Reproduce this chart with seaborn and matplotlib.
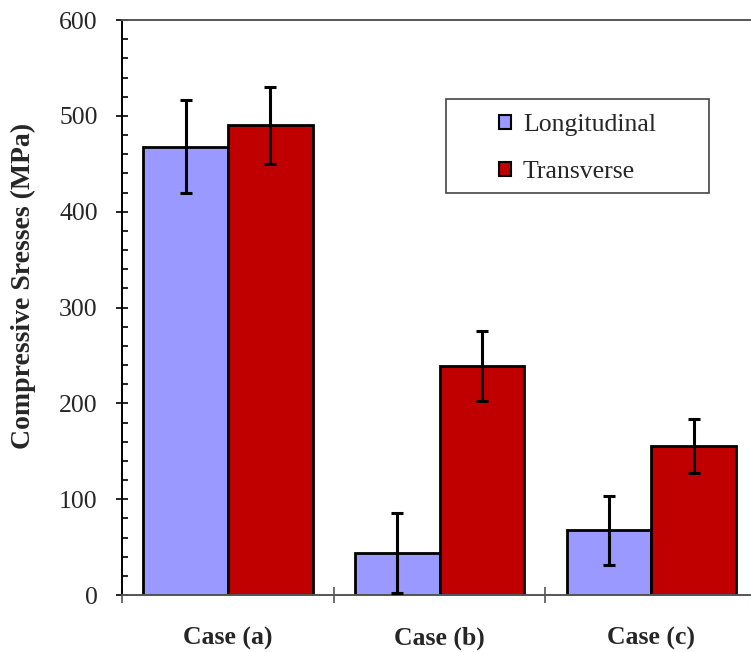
import matplotlib
matplotlib.use("Agg")
import matplotlib.pyplot as plt
from matplotlib.patches import Patch, Rectangle
from matplotlib.ticker import MultipleLocator, FixedLocator
import seaborn as sns
import pandas as pd

# Measured compressive stresses (MPa) and their scatter
cases = ["Case (a)", "Case (b)", "Case (c)"]
directions = ["Longitudinal", "Transverse"]
longitudinal = [468, 44, 67.5]
longitudinal_err = [49, 42, 36]
transverse = [490, 239, 155.5]
transverse_err = [40, 37, 28]
colors = ["#9999FF", "#C00000"]

df = pd.DataFrame({
    "case": cases * 2,
    "direction": [directions[0]] * 3 + [directions[1]] * 3,
    "stress": longitudinal + transverse,
})
errors = {directions[0]: longitudinal_err, directions[1]: transverse_err}

sns.set_style("white")
plt.rcParams["font.family"] = ["Liberation Serif", "DejaVu Serif"]

fig = plt.figure(figsize=(7.51, 6.52), dpi=100)
ax = fig.add_axes([0.1625, 0.0874, 0.8455, 0.8819])

sns.barplot(data=df, x="case", y="stress", hue="direction", order=cases,
            hue_order=directions, palette=colors, saturation=1,
            edgecolor="black", linewidth=2, errorbar=None, width=0.8,
            legend=False, ax=ax)

# error bars centred on each bar
for cont, d in zip(ax.containers, directions):
    xs = [b.get_x() + b.get_width() / 2 for b in cont]
    hs = [b.get_height() for b in cont]
    ax.errorbar(xs, hs, yerr=errors[d], fmt="none", ecolor="black",
                elinewidth=2.2, capsize=4.3, capthick=2.2, zorder=5)

ax.set_xlim(-0.5, 2.5)
ax.set_ylim(0, 600)

# y axis ticks
ax.yaxis.set_major_locator(MultipleLocator(100))
ax.yaxis.set_minor_locator(MultipleLocator(20))
ax.tick_params(axis="y", which="major", direction="inout", length=9,
               width=1.2, color="black", left=True, pad=13, labelsize=18.5)
ax.tick_params(axis="y", which="minor", direction="in", length=4.5,
               width=1.2, color="black", left=True)

# x axis: labels at group centres, tick marks at group boundaries
ax.xaxis.set_major_locator(FixedLocator([0, 1, 2]))
ax.set_xticklabels(cases, fontweight="bold")
ax.xaxis.set_minor_locator(FixedLocator([-0.5, 0.5, 1.5, 2.5]))
ax.tick_params(axis="x", which="major", length=0, pad=23, labelsize=18.5)
ax.tick_params(axis="x", which="minor", direction="inout", length=12,
               width=1.2, color="#555555", bottom=True)

ax.set_xlabel("")
ax.set_ylabel("Compressive Sresses (MPa)", fontsize=20, fontweight="bold")
ax.yaxis.set_label_coords(-0.135, 0.537)

for side in ["top", "bottom"]:
    ax.spines[side].set_color("#555555")
    ax.spines[side].set_linewidth(1.4)
ax.spines["left"].set_color("black")
ax.spines["left"].set_linewidth(1.4)
ax.spines["right"].set_visible(False)

handles = [Patch(facecolor=c, edgecolor="black", linewidth=1.5, label=d)
           for c, d in zip(colors, directions)]
ax.legend(handles=handles, loc="upper left", bbox_to_anchor=(0.594, 0.836),
          frameon=False, fontsize=18.5, handlelength=0.47, handleheight=0.47,
          handletextpad=0.45, labelspacing=0.95, borderpad=0, borderaxespad=0)
ax.add_patch(Rectangle((0.510, 0.699), 0.414, 0.164, transform=ax.transAxes,
                       facecolor="none", edgecolor="#444444", linewidth=1.2,
                       zorder=6))

fig.savefig("out.png", dpi=100)
